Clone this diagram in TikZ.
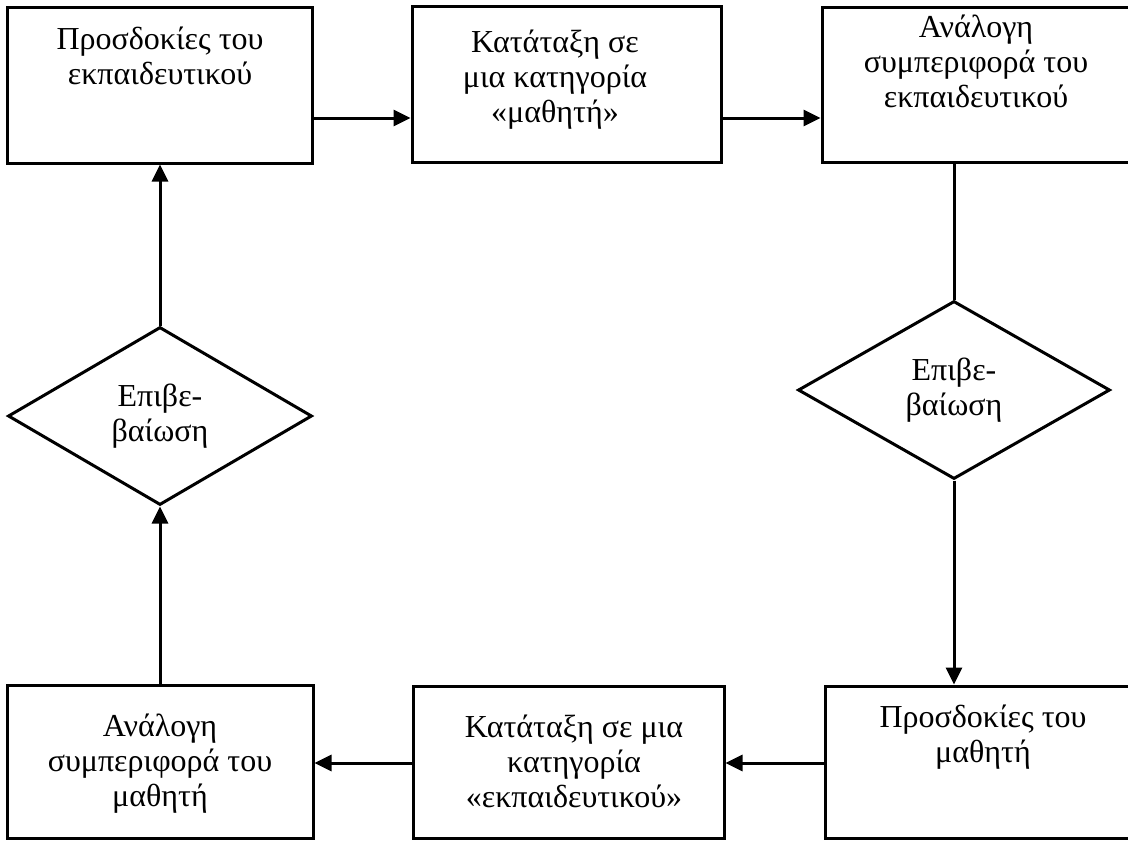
\documentclass[tikz,border=0pt]{standalone}
\usepackage{fontspec}
\setmainfont{Liberation Serif}
\usetikzlibrary{arrows.meta,shapes.geometric}

\tikzset{
  box/.style={draw, line width=1.5pt, rectangle, inner sep=0pt},
  decision/.style={draw, line width=1.5pt, diamond, inner sep=0pt,
    minimum width=#1, minimum height=89pt, align=center,
    font=\fontsize{16}{17.5}\selectfont},
  boxtext/.style={anchor=north, inner sep=0pt, align=center,
    font=\fontsize{16}{17.5}\selectfont},
  flow/.style={line width=1.5pt, -{Triangle[length=8.5pt,width=8pt]}},
  plain/.style={line width=1.5pt}
}

\begin{document}
\begin{tikzpicture}[x=0.5pt, y=-0.5pt]
  % page frame; shapes running past the edge are cut off
  \useasboundingbox (0,0) rectangle (1128,840);
  \clip (0,0) rectangle (1128,840);
  \fill[white] (0,0) rectangle (1128,840);

  % top row
  \node[box, minimum width=152.5pt, minimum height=77.5pt] (b1) at (159.5,85.5) {};
  \node[box, minimum width=154.5pt, minimum height=77.5pt] (b2) at (566.5,84.5) {};
  \node[box, minimum width=169pt,   minimum height=77pt]   (b3) at (991,85) {};

  % bottom row
  \node[box, minimum width=153pt,   minimum height=76.5pt] (b4) at (160,761.5) {};
  \node[box, minimum width=155.5pt, minimum height=76pt]   (b5) at (568.5,762) {};
  \node[box, minimum width=167.5pt, minimum height=76pt]   (b6) at (992.5,762) {};

  % texts of the boxes
  \node[boxtext] (b1t) at (160,27)  {Προσδοκίες του\\εκπαιδευτικού};
  \node[boxtext] (b2t) at (555,30)  {Κατάταξη σε\\μια κατηγορία\\«μαθητή»};
  \node[boxtext] (b3t) at (976,15)  {Ανάλογη\\συμπεριφορά του\\εκπαιδευτικού};
  \node[boxtext] (b4t) at (160,714) {Ανάλογη\\συμπεριφορά του\\μαθητή};
  \node[boxtext] (b5t) at (574,715) {Κατάταξη σε μια\\κατηγορία\\«εκπαιδευτικού»};
  \node[boxtext] (b6t) at (983,705) {Προσδοκίες του\\μαθητή};

  % confirmation diamonds
  \node[decision=152pt] (dL) at (160,416) {Επιβε-\\βαίωση};
  \node[decision=156pt] (dR) at (954,390) {Επιβε-\\βαίωση};

  % cycle of connectors
  \draw[flow]  (b1.east |- 0,118) -- (b2.west |- 0,118);
  \draw[flow]  (b2.east |- 0,118) -- (b3.west |- 0,118);
  \draw[plain] (dR.north |- b3.south) -- (dR.north);
  \draw[flow]  (dR.south) -- (dR.south |- b6.north);
  \draw[flow]  (b6.west |- 0,763) -- (b5.east |- 0,763);
  \draw[flow]  (b5.west |- 0,763) -- (b4.east |- 0,763);
  \draw[flow]  (dL.south |- b4.north) -- (dL.south);
  \draw[flow]  (dL.north) -- (dL.north |- b1.south);
\end{tikzpicture}
\end{document}
